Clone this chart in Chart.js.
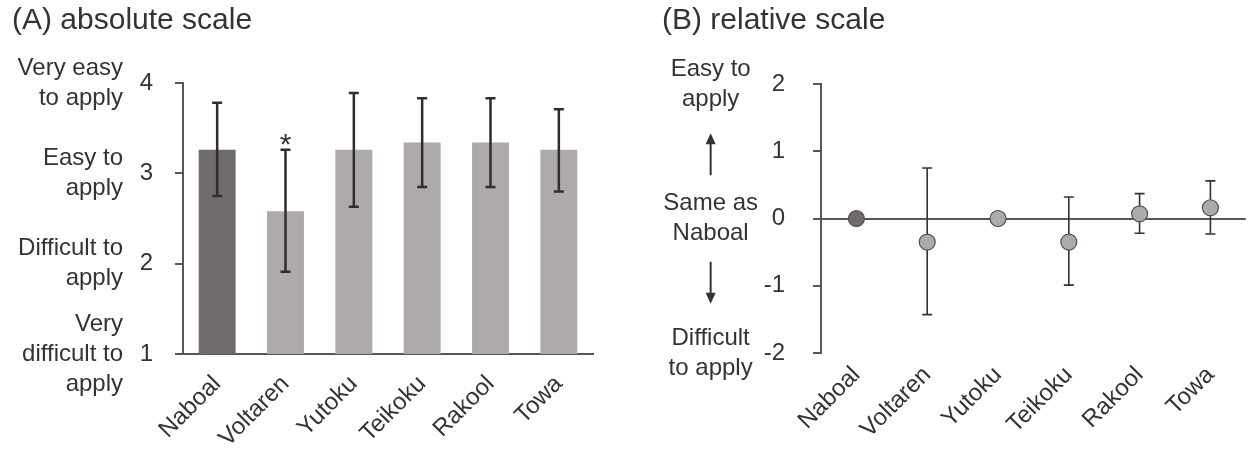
<!DOCTYPE html>
<html>
<head>
<meta charset="utf-8">
<script src="https://cdn.jsdelivr.net/npm/chart.js@4.4.0/dist/chart.umd.min.js"></script>
<style>
  html, body { margin: 0; padding: 0; background: #fff; }
  #boxA { position: absolute; left: 0; top: 0; width: 630px; height: 453px; }
  #boxB { position: absolute; left: 630px; top: 0; width: 625px; height: 453px; }
</style>
</head>
<body>
<div id="boxA"><canvas id="chartA"></canvas></div>
<div id="boxB"><canvas id="chartB"></canvas></div>
<script>
// products, same order in both panels
const products = ["Naboal", "Voltaren", "Yutoku", "Teikoku", "Rakool", "Towa"];

// (A) absolute scale: mean score with SD
const absMean = [3.26, 2.58, 3.26, 3.34, 3.34, 3.26];
const absLow  = [2.75, 1.91, 2.63, 2.85, 2.85, 2.80];
const absHigh = [3.78, 3.26, 3.89, 3.83, 3.83, 3.71];
const absMarks = ["", "*", "", "", "", ""];
const absTickValues = [1, 2, 3, 4];
const absTickNames = [["Very", "difficult to", "apply"], ["Difficult to", "apply"], ["Easy to", "apply"], ["Very easy", "to apply"]];

// (B) relative scale: difference from Naboal
const relMean = [0, -0.35, 0, -0.35, 0.07, 0.16];
const relLow  = [null, -1.43, null, -0.99, -0.22, -0.23];
const relHigh = [null, 0.75, null, 0.32, 0.37, 0.56];
const relTickValues = [-2, -1, 0, 1, 2];
const relTickNames = [["Difficult", "to apply"], "", ["Same as", "Naboal"], "", ["Easy to", "apply"]];
const relArrows = [1, -1];

const FONT = "'Liberation Sans', Arial, sans-serif";
const TEXT = "#333";
const AXIS = "#575757";
const darkFill = "#706b6b";
const lightFill = "#aeaaa9";

Chart.defaults.font.family = FONT;
Chart.defaults.color = TEXT;

// colour per product: Naboal is the reference product
const fills = products.map((p, i) => i === 0 ? darkFill : lightFill);

// draws error bars (and optional marks) from the y scale
function errorBarPlugin(low, high, opts) {
  const draw = function (chart) {
    const ctx = chart.ctx;
    const meta = chart.getDatasetMeta(0);
    const y = chart.scales.y;
    ctx.save();
    ctx.strokeStyle = opts.color;
    ctx.lineWidth = opts.width;
    meta.data.forEach((el, i) => {
      if (low[i] == null || high[i] == null) return;
      const x = el.x;
      const y1 = y.getPixelForValue(high[i]);
      const y2 = y.getPixelForValue(low[i]);
      ctx.beginPath();
      ctx.moveTo(x, y1); ctx.lineTo(x, y2);
      ctx.moveTo(x - opts.cap, y1); ctx.lineTo(x + opts.cap, y1);
      ctx.moveTo(x - opts.cap, y2); ctx.lineTo(x + opts.cap, y2);
      ctx.stroke();
      if (opts.marks && opts.marks[i]) {
        ctx.fillStyle = TEXT;
        ctx.font = "30px " + FONT;
        ctx.textAlign = "center";
        ctx.textBaseline = "alphabetic";
        ctx.fillText(opts.marks[i], x, y1 + 4);
      }
    });
    ctx.restore();
  };
  const plugin = { id: "errorBars" };
  if (opts.before) plugin.beforeDatasetsDraw = draw;
  else plugin.afterDatasetsDraw = draw;
  return plugin;
}

// arrows next to the relative scale
const arrowPlugin = {
  id: "arrows",
  afterDraw(chart) {
    const ctx = chart.ctx;
    const s = chart.scales.y2;
    ctx.save();
    ctx.font = "24px " + FONT;
    const widest = Math.max(...relTickNames.flat().filter(t => t).map(t => ctx.measureText(t).width));
    const cx = s.right - s.options.ticks.padding - widest / 2;
    ctx.strokeStyle = "#333";
    ctx.fillStyle = "#333";
    ctx.lineWidth = 2;
    relArrows.forEach(v => {
      const c = s.getPixelForValue(v) + (v > 0 ? 3 : -3);
      const dir = v > 0 ? -1 : 1;
      const tip = c + dir * 21;
      const tail = c - dir * 21;
      ctx.beginPath();
      ctx.moveTo(cx, tail); ctx.lineTo(cx, tip - dir * 8);
      ctx.stroke();
      ctx.beginPath();
      ctx.moveTo(cx, tip);
      ctx.lineTo(cx - 5, tip - dir * 11);
      ctx.lineTo(cx + 5, tip - dir * 11);
      ctx.closePath();
      ctx.fill();
    });
    ctx.restore();
  }
};

const tickFont = { size: 24, lineHeight: 1.25 };

new Chart(document.getElementById("chartA"), {
  type: "bar",
  data: {
    labels: products,
    datasets: [{
      data: absMean,
      backgroundColor: fills,
      borderWidth: 0,
      barPercentage: 0.54,
      categoryPercentage: 1
    }]
  },
  options: {
    responsive: true,
    maintainAspectRatio: false,
    animation: false,
    layout: { padding: { left: 12, right: 37, top: 0, bottom: 0 } },
    plugins: {
      legend: { display: false },
      tooltip: { enabled: false },
      title: {
        display: true, text: "(A) absolute scale", align: "start",
        font: { size: 30, weight: "normal" }, color: TEXT,
        padding: { top: 3, bottom: 44 }
      }
    },
    scales: {
      x: {
        grid: { display: false, drawTicks: false },
        border: { display: true, color: AXIS, width: 2 },
        ticks: { font: { size: 24 }, color: TEXT, minRotation: 45, maxRotation: 45, padding: 16 },
        afterFit: s => { s.height = 99; }
      },
      y: {
        min: 1, max: 4,
        afterBuildTicks: s => { s.ticks = absTickValues.map(v => ({ value: v })); },
        grid: { display: true, drawOnChartArea: false, drawTicks: true, tickLength: 8, color: AXIS, lineWidth: 2 },
        border: { display: true, color: AXIS, width: 2 },
        ticks: { font: tickFont, color: TEXT, padding: 22, autoSkip: false },
        afterFit: s => { s.width = 58; }
      },
      y2: {
        position: "left", weight: 1,
        min: 1, max: 4,
        afterBuildTicks: s => { s.ticks = absTickValues.map(v => ({ value: v })); },
        grid: { display: false, drawTicks: false },
        border: { display: false },
        ticks: {
          font: tickFont, color: TEXT, padding: 2, autoSkip: false,
          callback: v => absTickNames[absTickValues.indexOf(v)]
        },
        afterFit: s => { s.width = 113; }
      }
    }
  },
  plugins: [errorBarPlugin(absLow, absHigh, { color: "#2e2e2e", width: 2.5, cap: 5, marks: absMarks })]
});

new Chart(document.getElementById("chartB"), {
  type: "line",
  data: {
    labels: products,
    datasets: [{
      data: relMean,
      showLine: false,
      pointRadius: 8,
      pointBackgroundColor: fills,
      pointBorderColor: "#4e4e4e",
      pointBorderWidth: 1.2
    }]
  },
  options: {
    responsive: true,
    maintainAspectRatio: false,
    animation: false,
    layout: { padding: { left: 32, right: 5, top: 0, bottom: 0 } },
    plugins: {
      legend: { display: false },
      tooltip: { enabled: false },
      title: {
        display: true, text: "(B) relative scale", align: "start",
        font: { size: 30, weight: "normal" }, color: TEXT,
        padding: { top: 3, bottom: 45 }
      }
    },
    scales: {
      x: {
        offset: true,
        grid: { display: false, drawTicks: false },
        border: { display: false },
        ticks: { font: { size: 24 }, color: TEXT, minRotation: 45, maxRotation: 45, padding: 8 },
        afterFit: s => { s.height = 100; }
      },
      y: {
        min: -2, max: 2,
        afterBuildTicks: s => { s.ticks = relTickValues.map(v => ({ value: v })); },
        grid: {
          display: true, drawOnChartArea: true, drawTicks: true, tickLength: 8, lineWidth: 2,
          color: c => (c.tick && c.tick.value === 0) ? AXIS : "rgba(0,0,0,0)",
          tickColor: AXIS
        },
        border: { display: true, color: AXIS, width: 2 },
        ticks: { font: tickFont, color: TEXT, padding: 28, autoSkip: false },
        afterFit: s => { s.width = 61; }
      },
      y2: {
        position: "left", weight: 1,
        min: -2, max: 2,
        afterBuildTicks: s => { s.ticks = relTickValues.map(v => ({ value: v })); },
        grid: { display: false, drawTicks: false },
        border: { display: false },
        ticks: {
          font: tickFont, color: TEXT, padding: 2, crossAlign: "center", autoSkip: false,
          callback: v => relTickNames[relTickValues.indexOf(v)]
        },
        afterFit: s => { s.width = 98; }
      }
    }
  },
  plugins: [errorBarPlugin(relLow, relHigh, { color: "#333", width: 1.6, cap: 5, before: true }), arrowPlugin]
});
</script>
</body>
</html>
